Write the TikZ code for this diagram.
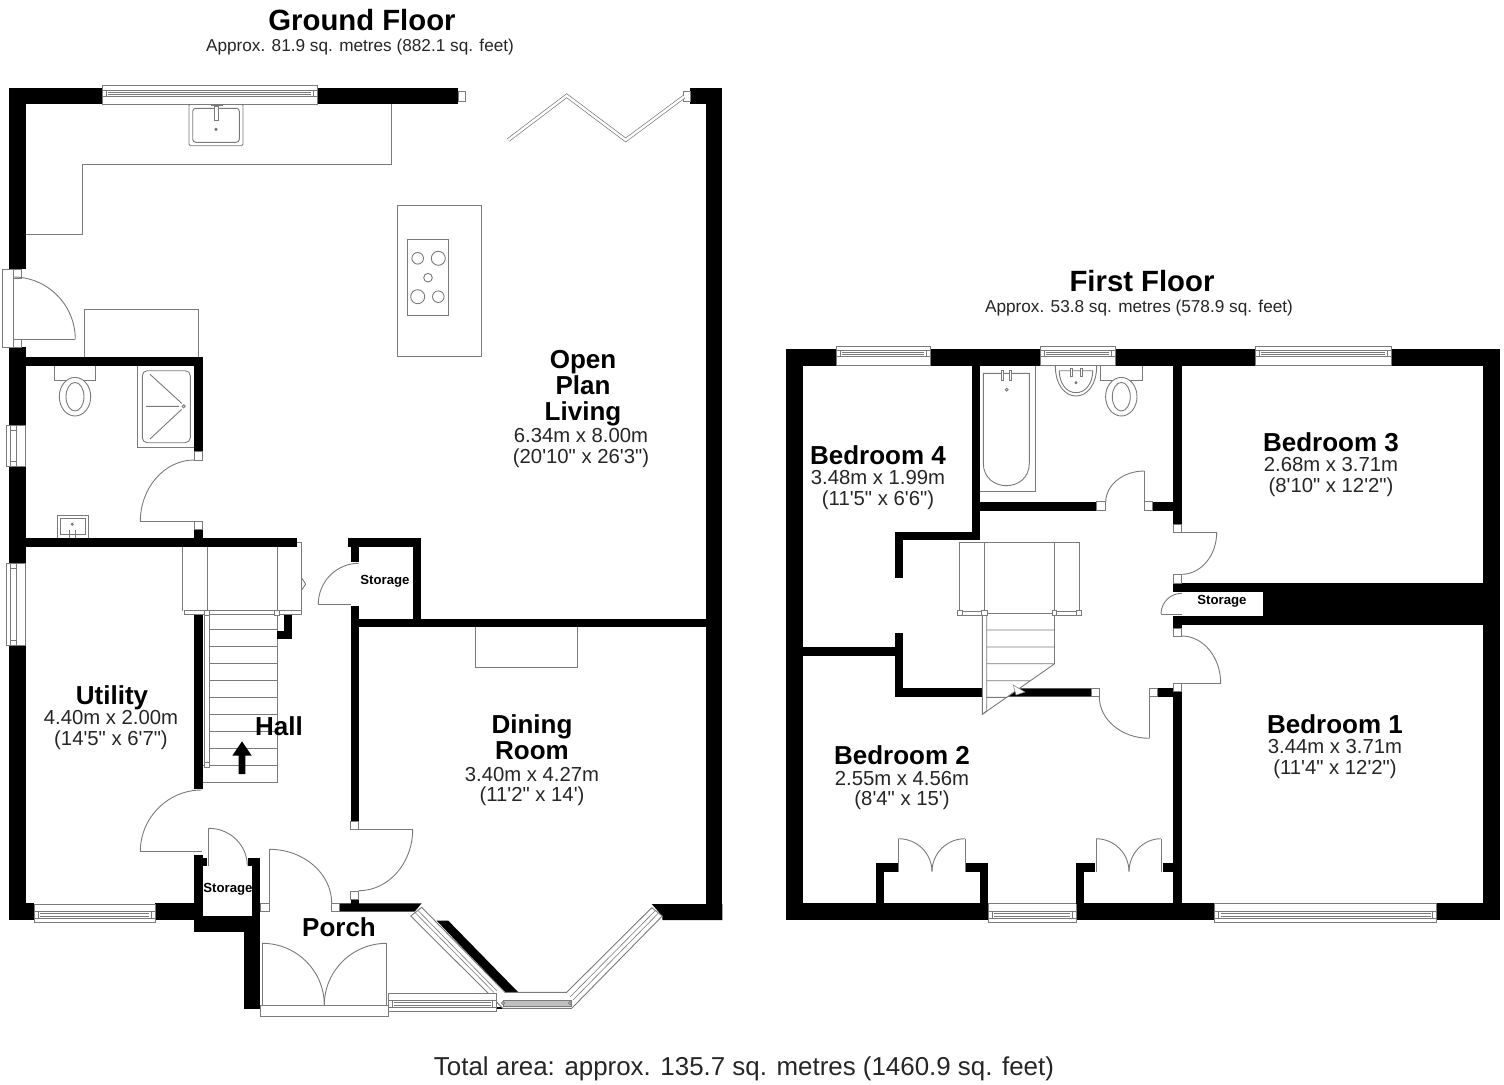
\documentclass[tikz,border=0pt]{standalone}
\usepackage{fontspec}
\usetikzlibrary{calc}
\newfontfamily\rf{Liberation Sans}
\definecolor{ln}{gray}{0.48}
\tikzset{
 wallfill/.style={fill=black},
 ln/.style={draw=ln,line width=0.9pt,line join=miter},
 fx/.style={draw=ln,line width=0.9pt,fill=white},
 rname/.style={inner sep=0pt,align=center,font=\rf\bfseries\fontsize{26}{26}\selectfont},
 rdim/.style={inner sep=0pt,align=center,text=black!85,font=\rf\fontsize{20.3}{20.6}\selectfont},
 stlabel/.style={inner sep=0pt,font=\rf\bfseries\fontsize{13.2}{14}\selectfont},
 ftitle/.style={inner sep=0pt,font=\rf\bfseries\fontsize{29.3}{30}\selectfont},
 fsub/.style={inner sep=0pt,text=black!85,font=\rf\fontsize{17.2}{18}\selectfont},
 ftotal/.style={inner sep=0pt,text=black!85,font=\rf\fontsize{25.9}{27}\selectfont},
}
\newcommand\wl[4]{\fill[wallfill] (#1,#2) rectangle (#3,#4);}
\newcommand\fr[4]{\draw[fx] (#1,#2) rectangle (#3,#4);}
\newcommand\qarc[6]{\draw[ln] (#1,#2) .. controls ($(#1,#2)!.5523!(#3,#4)$) and ($(#5,#6)!.5523!(#3,#4)$) .. (#5,#6);}
\newcommand\hwin[6]{\draw[fx] (#1,#3) rectangle (#2,#4);
 \draw[ln] (#1,#5) -- (#2,#5) (#1,#6) -- (#2,#6) (#1+4,#5) -- (#1+4,#6) (#2-4,#5) -- (#2-4,#6) (#1+6,#5+2) -- (#2-6,#5+2) (#1+6,#6-2) -- (#2-6,#6-2);}
\newcommand\vwin[6]{\draw[fx] (#3,#1) rectangle (#4,#2);
 \draw[ln] (#5,#1) -- (#5,#2) (#6,#1) -- (#6,#2) (#5,#1+5) -- (#6,#1+5) (#5,#2-5) -- (#6,#2-5);}
\newcommand\toilet[2]{\draw[fx] (#1-20.7,365.7) rectangle (#1+20.7,380.7);
 \draw[fx] (#1,#2) ellipse[x radius=15.7,y radius=19.3]; \draw[ln] (#1,#2) ellipse[x radius=9,y radius=14.3];}
\begin{document}
\begin{tikzpicture}[x=1pt,y=-1pt]
\useasboundingbox (0,0) rectangle (1504,1084);
\fill[white] (0,0) rectangle (1504,1084);
% ---------- GROUND FLOOR: fittings
\draw[ln] (391.7,104) -- (391.7,164.3) -- (82.7,164.3) -- (82.7,234) -- (25.7,234);
\draw[ln] (84.3,357) -- (84.3,309.3) -- (198.7,309.3) -- (198.7,357);
\draw[fx] (397.3,205.7) rectangle (481.7,356);
\draw[fx] (407.7,239.7) rectangle (448.7,315);
\draw[ln] (417.7,258.3) circle[radius=5.8] (438.3,258.3) circle[radius=7] (428,277.7) circle[radius=4.3] (417.7,296.7) circle[radius=7] (438.3,296.7) circle[radius=5.8];
\draw[fx,rounded corners=1.5pt] (189,104) rectangle (243,145.7);
\draw[ln,rounded corners=3pt] (192.7,108.3) rectangle (239.3,142.3);
\draw[fx] (214.5,106) rectangle (218.5,120);
\draw[ln] (210.5,105) -- (222.5,105);
\fill[ln] (216,129.3) circle[radius=1.1];
\draw[fx] (475,627.3) -- (475,667) -- (577,667) -- (577,627.3);
\toilet{75}{396.7}
\draw[fx] (137.3,365.7) rectangle (194.3,447.7);
\draw[ln,rounded corners=5pt] (142.3,370.7) rectangle (190.3,442.7);
\draw[ln] (183.7,406.3) circle[radius=1.6] (150,374.3) -- (181.7,403.3) (146,406.3) -- (179,406.3) (150,439) -- (181.7,409.3);
\draw[fx] (57,515.3) rectangle (88,538.3);
\draw[ln] (60,518.3) rectangle (85,534);
\draw[ln] (69,530) -- (69,538) (75.3,530) -- (75.3,538);
\fill[ln] (72.3,524.3) circle[radius=1];
% stairs
\draw[ln] (182.3,610.7) -- (182.3,542.3) -- (301.7,542.3) -- (301.7,612) (207.3,542.3) -- (207.3,611) (277.3,542.3) -- (277.3,611);
\draw[ln] (301.7,578) -- (305.7,584) -- (301.7,590);
\draw[fx] (184,610.7) rectangle (301.7,614);
\draw[ln] (277.3,614) -- (277.3,782) -- (202.7,782);
\draw[fx] (204,614) rectangle (209.3,767);
\draw[ln] (209.3,629.3) -- (277.3,629.3) (209.3,646.7) -- (277.3,646.7) (209.3,663.3) -- (277.3,663.3) (209.3,680.7) -- (277.3,680.7) (209.3,697.7) -- (277.3,697.7) (209.3,714.7) -- (277.3,714.7) (209.3,731.3) -- (277.3,731.3) (209.3,748.3) -- (277.3,748.3) (202.7,765) -- (277.3,765);
\fr{204.7}{610}{209.3}{615.3}\fr{274.7}{610}{279.3}{615.3}\fr{204}{762.7}{209.3}{767.3}
\fill (242,741.3) -- (251.7,755.7) -- (245.3,755.7) -- (245.3,774) -- (238.7,774) -- (238.7,755.7) -- (232.3,755.7) -- cycle;
% ---------- GROUND FLOOR: walls
\wl{9.3}{88}{102}{104.3}\wl{317}{88}{458}{104.3}\wl{690}{88}{722.3}{104.3}
\wl{9.3}{88}{25.7}{269}\wl{9.3}{347.3}{25.7}{920}\wl{9.3}{903.3}{34}{920}\wl{155}{903.3}{260}{920}
\wl{25.7}{357.3}{202.7}{365.7}\wl{194.3}{357.3}{202.7}{451.7}\wl{194.3}{529.3}{202.7}{546}
\wl{25.7}{538.3}{296.7}{546.7}
\wl{194.3}{615}{202.7}{788.7}\wl{284}{615}{292}{639}\wl{277.3}{631}{292}{639}
\wl{194.3}{855}{202.7}{931.7}\wl{202.7}{857.7}{207.3}{865.7}
\wl{251.7}{857.7}{260}{1009.3}\wl{248.3}{857.7}{260}{865.7}
\wl{194.3}{915.7}{260}{931.7}\wl{244}{931.7}{260}{1009.3}
\fill[white] (202.7,865.8) rectangle (251.7,915.7);
\wl{350.7}{899.3}{358.7}{904}
\fill (339.3,903.3) -- (421.7,903.3) -- (414.5,911.7) -- (339.3,911.7) -- cycle;
\wl{347.7}{538.3}{421}{546.7}\wl{350.7}{546.7}{358.7}{561.7}\wl{413.3}{538.3}{421}{619.3}
\wl{350.7}{605.7}{358.7}{821.7}\wl{358.7}{619.3}{706}{627.3}
\wl{706}{88}{722.3}{920}
\fill (651.7,904) -- (722.3,904) -- (722.3,920) -- (662.3,920) -- (662.3,916) -- cycle;
\fill (436.7,920.7) -- (448.3,920.7) -- (518.3,992.3) -- (505,992.3) -- cycle;
\fill (497,1007) rectangle (536,1009);
% frames, windows, doors
\hwin{102}{317.3}{85.3}{104.3}{90}{96}
\hwin{34}{155}{904}{922.3}{911.5}{918.3}
\fr{458}{91}{465}{101.3}\fr{683.3}{91}{690}{101.3}
\vwin{425}{466.7}{6.7}{25.7}{10.7}{16.7}
\vwin{563.3}{645.3}{6.7}{25.7}{10.7}{16.7}
\draw[fx] (2.7,269) rectangle (13.3,347.3);
\fr{13.3}{269}{21.3}{278}\fr{13.3}{339.3}{21.3}{347.3}
\qarc{13.3}{277}{75.3}{277}{75.3}{339.3}\draw[ln] (75.3,339.3) -- (13.3,339.3);
\fr{194.3}{451.7}{202.7}{460}\fr{194.3}{521.7}{202.7}{529.3}
\qarc{194.3}{460}{140.3}{460}{140.3}{521.7}\draw[ln] (140.3,521.7) -- (194.3,521.7);
\qarc{358.7}{563.3}{318.3}{563.3}{318.3}{604.3}\draw[ln] (318.3,604.3) -- (350.7,604.3);
\qarc{201.7}{790}{140.3}{790}{140.3}{851.7}\draw[ln] (140.3,851.7) -- (201.7,851.7);
\qarc{208.7}{828.3}{247.3}{828.3}{247.3}{865.7}\draw[ln] (208.7,828.3) -- (208.7,865.7);
\fr{260}{903.3}{269.3}{911.7}\fr{331.7}{903.3}{339.3}{911.7}
\qarc{269.3}{849.3}{331.7}{849.3}{331.7}{903.3}\draw[ln] (269.3,849.3) -- (269.3,903.3);
\fr{350.7}{821.7}{358.7}{829.3}\fr{350.7}{891.3}{358.7}{899.3}
\qarc{412.7}{829.3}{412.7}{890.7}{358.7}{890.7}\draw[ln] (358.7,829.3) -- (412.7,829.3);
\draw[ln] (262.3,1005) -- (262.3,943.3) (386.7,1005) -- (386.7,943.3);
\qarc{262.3}{943.3}{324.3}{943.3}{324.3}{1005}\qarc{386.7}{943.3}{324.3}{943.3}{324.3}{1005}
\draw[fx] (260,1005) rectangle (388.3,1016);
% bay window
\draw[fx] (421.7,907.3) -- (410.7,916) -- (488.3,993.3) -- (502.7,1008.3) -- (571.7,1008.3) -- (662.3,916) -- (651.7,907.7) -- (566.7,992.3) -- (505,992.3) -- cycle;
\draw[ln,line width=0.6pt] (415,912.5) -- (494,992.5) (418,910.5) -- (497,991) (655,911) -- (570,997) (658,913.5) -- (573,1000);
\fill[gray!50,draw=ln,line width=.5pt] (503.3,1000.5) rectangle (571,1006.5);
\draw[ln,fill=white] (503,1003) circle[radius=1.6] (570,1003) circle[radius=1.6];
\hwin{388.3}{496.7}{993.3}{1011.7}{1000.7}{1007.3}
% folding door
\draw[draw=ln,line width=.7pt,double=white,double distance=2.4pt] (684,96.7) -- (625.7,140) -- (566.7,95.7) -- (508.3,140);
% ---------- FIRST FLOOR: fittings
\draw[fx] (978.3,365.7) rectangle (1035,491.7);
\draw[ln] (983.3,373.3) -- (983.3,463.3) .. controls (983.3,478) and (995,485.7) .. (1006.3,485.7) .. controls (1018,485.7) and (1029.3,478) .. (1029.3,463.3) -- (1029.3,373.3) -- cycle;
\fr{1001.5}{370}{1003.5}{380}\fr{1009}{370}{1011}{380}
\draw[ln] (1006.7,389.7) circle[radius=1.4];
\draw[fx] (1055.3,365.7) .. controls (1055.3,385) and (1065,396) .. (1076,396) .. controls (1087,396) and (1096.7,385) .. (1096.7,365.7);
\draw[ln] (1059.3,370.7) -- (1092.7,370.7) .. controls (1092.7,384) and (1085,392.7) .. (1076,392.7) .. controls (1067,392.7) and (1059.3,384) .. (1059.3,370.7);
\fr{1070}{368}{1072}{376}\fr{1080.7}{368}{1082.7}{376}
\fill[ln] (1076,382.7) circle[radius=1];
\toilet{1121.3}{396.7}
% first floor stairs
\draw[ln] (959.3,611) -- (959.3,542.7) -- (1079.3,542.7) -- (1079.3,611) (984.3,542.7) -- (984.3,611) (1054.3,542.7) -- (1054.3,611);
\draw[fx] (960,611) rectangle (982,615);\draw[fx] (1056,611) rectangle (1078,615);
\draw[ln] (984,613.3) -- (1054.3,613.3) -- (1054.3,664);
% ---------- FIRST FLOOR: walls
\wl{786}{349}{836}{365.7}\wl{930}{349}{1040}{365.7}\wl{1115}{349}{1255}{365.7}\wl{1391}{349}{1500}{365.7}
\wl{786}{349}{802.7}{920}\wl{786}{903.3}{988}{920}\wl{1076}{903.3}{1214.8}{920}\wl{1436.6}{903.3}{1500}{920}
\wl{1482.5}{349}{1500}{920}
\wl{971.7}{365.7}{980}{540}\wl{980}{501.7}{1096.7}{510.7}\wl{1152.3}{501.7}{1173.3}{510.7}\wl{1173.3}{365.7}{1181.7}{524}
\wl{895}{531.7}{971.7}{540}\wl{895}{531.7}{903.3}{577.7}\wl{895}{633.3}{903.3}{696.7}
\wl{802.7}{647.3}{895}{656}
\wl{895}{688.3}{982.3}{696.7}
\fill (1019.3,688.3) -- (1091,688.3) -- (1091,696.7) -- (1007.7,696.7) -- cycle;
\wl{1157.3}{688.3}{1173.3}{696.7}\wl{1173.3}{691.7}{1181.7}{904}
\wl{1173.3}{583.3}{1483}{591.7}\wl{1173.3}{616}{1483}{624.7}\wl{1263}{583.3}{1483}{624.7}\wl{1173.3}{616}{1181.7}{628.3}
% first floor stair flight (over wall)
\draw[fx] (982.3,613.3) -- (986.7,613.3) -- (986.7,711) -- (982.3,714.3) -- cycle;
\draw[ln] (986.7,630) -- (1054.3,630) (986.7,647) -- (1054.3,647) (986.7,663.7) -- (1054.3,663.7) (986.7,680.7) -- (1030.5,680.7) (986.7,697.3) -- (1006.7,697.3) (1054.3,664) -- (982.3,714.3);
\filldraw[fill=white,draw=ln,line width=.5pt] (1013.3,685) -- (1025,692) -- (1016,695) -- cycle;
\fr{957}{610.3}{962.3}{615.7}\fr{981.7}{610.3}{987.3}{615.7}\fr{1052}{610.3}{1056.5}{615.7}\fr{1076.7}{610.3}{1081.7}{615.7}
% first floor windows, doors
\hwin{836}{930}{346}{365.7}{350.5}{356.5}
\hwin{1040}{1115}{346}{365.7}{350.5}{356.5}
\hwin{1255}{1391}{346}{365.7}{350.5}{356.5}
\hwin{988}{1076}{903.3}{922.3}{911.7}{918.3}
\hwin{1214.8}{1436.6}{903.3}{922.3}{911.7}{918.3}
\fr{1096.7}{501.7}{1105.7}{510.7}\fr{1144.3}{501.7}{1152.3}{510.7}
\qarc{1105.7}{502.3}{1105.7}{471}{1144.3}{471}\draw[ln] (1144.3,471) -- (1144.3,502.3);
\fr{1173.3}{524}{1181.7}{532.3}\fr{1173.3}{574.3}{1181.7}{583.3}
\qarc{1181.7}{574.3}{1216.7}{574.3}{1216.7}{532.3}\draw[ln] (1216.7,532.3) -- (1181.7,532.3);
\qarc{1181.7}{593.3}{1161}{593.3}{1161}{614}\draw[ln] (1161,614) -- (1181.7,614);
\fr{1173.3}{628.3}{1181.7}{636}\fr{1173.3}{683.3}{1181.7}{691.7}
\qarc{1181.7}{636}{1220.7}{636}{1220.7}{683.3}\draw[ln] (1220.7,683.3) -- (1181.7,683.3);
\fr{1091}{688.3}{1099.3}{696.7}\fr{1149.3}{688.3}{1157.3}{696.7}
\qarc{1099.3}{696.7}{1099.3}{738.3}{1149.3}{738.3}\draw[ln] (1149.3,738.3) -- (1149.3,696.7);
% closets
\wl{875.5}{862.7}{897.5}{871.7}\wl{875.5}{862.7}{883.8}{904}\wl{965.5}{862.7}{988}{871.7}\wl{979.7}{862.7}{988}{904}
\wl{1076}{862.7}{1094.5}{871.7}\wl{1076}{862.7}{1084.4}{904}\wl{1163.4}{862.7}{1181.7}{871.7}
\draw[ln] (898.5,871.7) -- (898.5,838.7) (965,871.7) -- (965,838.7) (1096,871.7) -- (1096,838.7) (1161,871.7) -- (1161,838.7);
\qarc{898.5}{838.7}{932}{838.7}{932}{871.7}\qarc{965}{838.7}{932}{838.7}{932}{871.7}
\qarc{1096}{838.7}{1129}{838.7}{1129}{871.7}\qarc{1161}{838.7}{1129}{838.7}{1129}{871.7}
% ---------- TEXT
\node[ftitle] (gf) at (362,20) {Ground Floor};
\node[fsub] (gfs) at (360,47.5) {Approx. 81.9 sq. metres (882.1 sq. feet)};
\node[ftitle] (ff) at (1142,281) {First Floor};
\node[fsub] (ffs) at (1139,308.5) {Approx. 53.8 sq. metres (578.9 sq. feet)};
\node[ftotal] (tot) at (744,1069) {Total area: approx. 135.7 sq. metres (1460.9 sq. feet)};
\node[rname] (open) at (583,388.5) {Open\\Plan\\Living};
\node[rdim] (opend) at (581,448) {6.34m x 8.00m\\(20'10" x 26'3")};
\node[rname] (din) at (532,737.5) {Dining\\Room};
\node[rdim] (dind) at (532,786.5) {3.40m x 4.27m\\(11'2" x 14')};
\node[rname] (uti) at (112,697.5) {Utility};
\node[rdim] (utid) at (111,730) {4.40m x 2.00m\\(14'5" x 6'7")};
\node[rname] (hal) at (279,726) {Hall};
\node[rname] (por) at (339,927) {Porch};
\node[stlabel] (st1) at (385,581) {Storage};
\node[stlabel] (st2) at (228,889) {Storage};
\node[stlabel] (st3) at (1222,601) {Storage};
\node[rname] (b4) at (878,455) {Bedroom 4};
\node[rdim] (b4d) at (878,490) {3.48m x 1.99m\\(11'5" x 6'6")};
\node[rname] (b3) at (1331,442) {Bedroom 3};
\node[rdim] (b3d) at (1331,477) {2.68m x 3.71m\\(8'10" x 12'2")};
\node[rname] (b1) at (1335,724) {Bedroom 1};
\node[rdim] (b1d) at (1335,759) {3.44m x 3.71m\\(11'4" x 12'2")};
\node[rname] (b2) at (902,755) {Bedroom 2};
\node[rdim] (b2d) at (902,790.5) {2.55m x 4.56m\\(8'4" x 15')};
\end{tikzpicture}
\end{document}
